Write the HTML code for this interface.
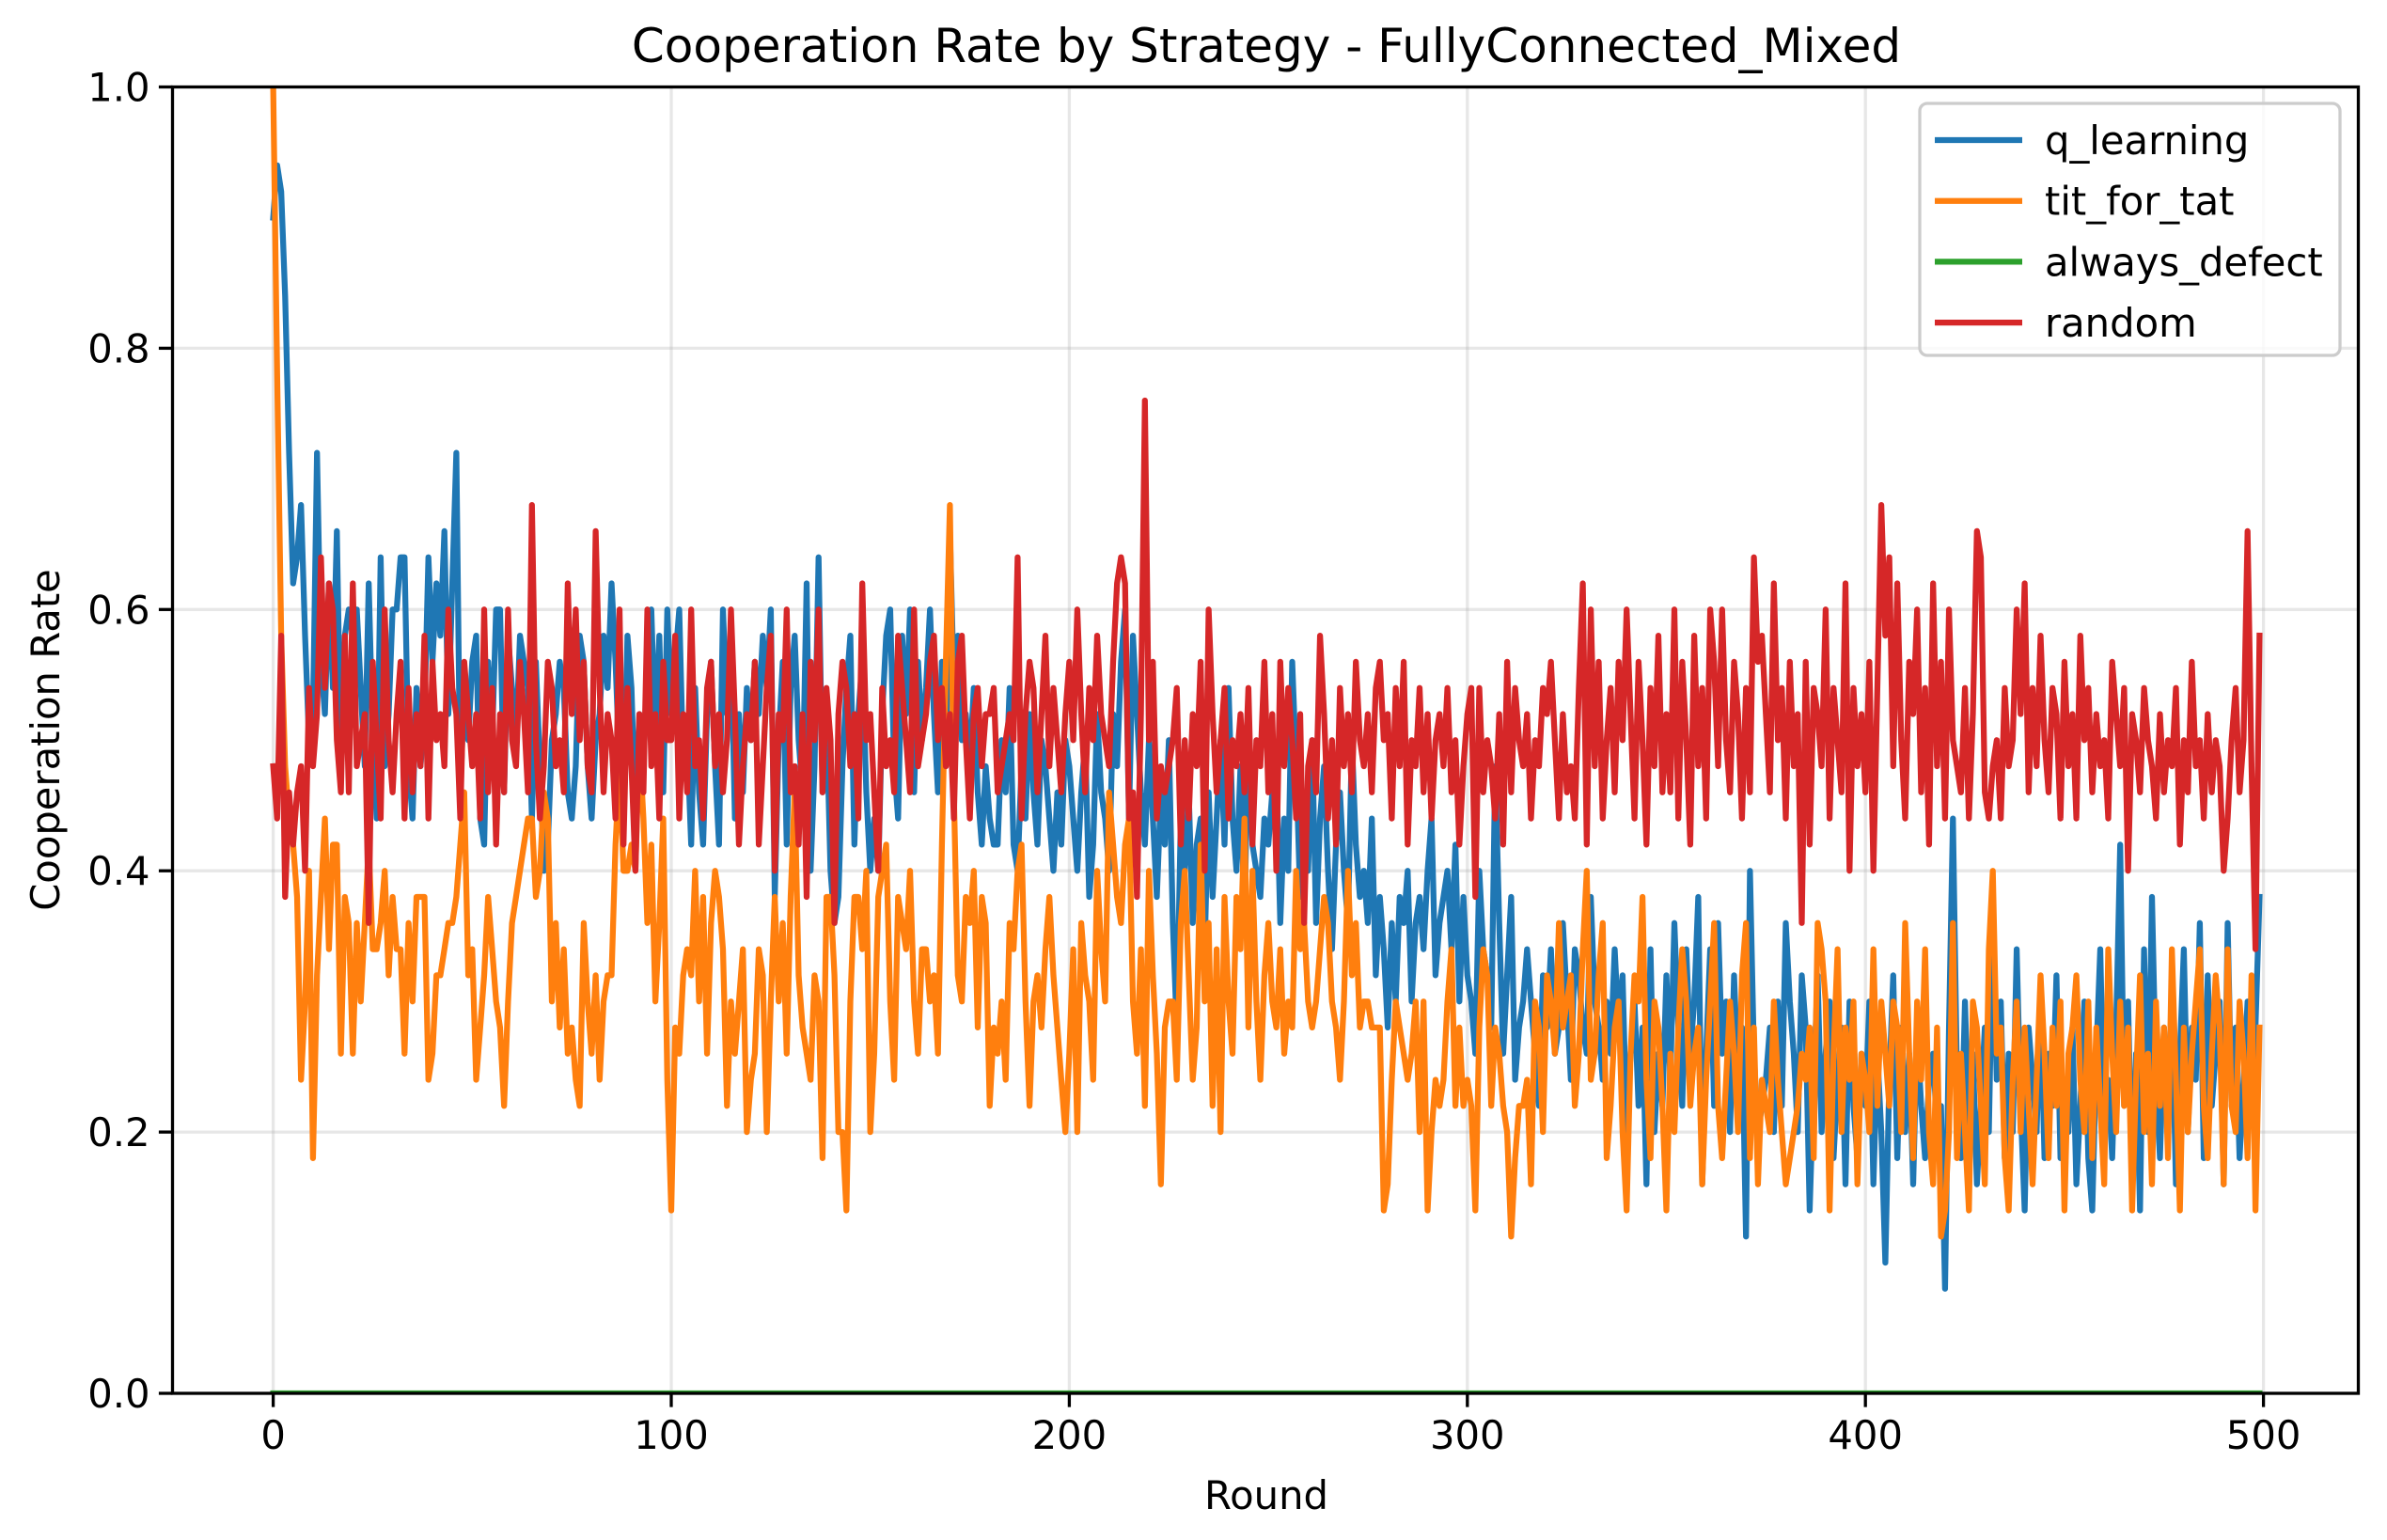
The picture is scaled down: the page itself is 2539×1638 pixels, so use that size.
<!DOCTYPE html>
<html><head><meta charset="utf-8"><style>
html,body{margin:0;padding:0;background:#fff;}
svg{display:block;font-family:"DejaVu Sans","Liberation Sans",sans-serif;}
</style></head><body>
<svg id="chart" width="2539" height="1638" viewBox="0 0 2539 1638" xmlns="http://www.w3.org/2000/svg">
<rect width="2539" height="1638" fill="#fff"/>
<text x="1347" y="66" font-size="50" text-anchor="middle" fill="#000">Cooperation Rate by Strategy - FullyConnected_Mixed</text>
<text x="1347" y="1605" font-size="41.7" text-anchor="middle" fill="#000">Round</text>
<text transform="translate(63,787) rotate(-90)" font-size="41.7" text-anchor="middle" fill="#000">Cooperation Rate</text>
<defs><clipPath id="clip"><rect x="183.5" y="92.5" width="2325" height="1389.5"/></clipPath></defs>
<g id="grid"></g>
<g id="series" clip-path="url(#clip)"></g>
<g id="axes"></g>
<g id="legend"></g>
</svg>
<script>
const categoriesRange = [0, 500];
const yTicks = [0.0, 0.2, 0.4, 0.6, 0.8, 1.0];
const xTicks = [0, 100, 200, 300, 400, 500];
const seriesNames = ["q_learning", "tit_for_tat", "always_defect", "random"];
const seriesColors = ["#1f77b4", "#ff7f0e", "#2ca02c", "#d62728"];

const qLearning = [
.90,.94,.92,.84,.72,.62,.64,.68,.58,.50,.52,.72,.56,.52,.62,.54,.66,.48,.58,.60,.58,.60,.54,.48,.62,.50,.44,.64,.48,.52,.60,.60,.64,.64,.48,.44,.54,.48,.52,.64,.56,.62,.58,.66,.52,.62,.72,.46,.54,.50,
.56,.58,.44,.42,.56,.50,.60,.60,.46,.58,.54,.50,.58,.56,.54,.44,.56,.48,.40,.42,.50,.52,.56,.54,.46,.44,.48,.58,.56,.48,.44,.50,.52,.58,.54,.62,.56,.48,.44,.58,.54,.44,.52,.48,.56,.60,.50,.58,.46,.60,
.52,.56,.60,.48,.50,.42,.54,.46,.42,.52,.56,.48,.42,.60,.52,.58,.44,.52,.46,.54,.50,.56,.52,.58,.54,.60,.38,.50,.56,.42,.54,.58,.50,.46,.62,.40,.48,.64,.46,.52,.40,.36,.38,.48,.54,.58,.42,.52,.56,.46,
.40,.44,.40,.52,.58,.60,.48,.44,.58,.52,.60,.46,.56,.50,.54,.60,.52,.46,.56,.48,.66,.54,.58,.50,.52,.48,.54,.46,.42,.48,.44,.42,.42,.50,.46,.54,.42,.40,.48,.44,.52,.46,.42,.50,.48,.44,.40,.46,.42,.50,
.48,.44,.40,.46,.50,.38,.42,.52,.46,.44,.40,.52,.48,.56,.60,.44,.58,.52,.46,.42,.50,.44,.38,.46,.42,.50,.36,.28,.44,.40,.46,.36,.42,.44,.34,.46,.38,.44,.50,.42,.54,.44,.40,.48,.36,.52,.42,.40,.38,.44,
.42,.46,.48,.36,.44,.40,.56,.48,.38,.44,.40,.50,.36,.44,.48,.40,.34,.42,.46,.40,.36,.50,.42,.38,.40,.36,.44,.32,.38,.34,.28,.36,.30,.38,.36,.40,.30,.36,.38,.34,.40,.44,.32,.36,.38,.40,.34,.42,.30,.38,
.32,.30,.26,.40,.34,.32,.28,.48,.36,.26,.32,.38,.24,.28,.30,.34,.30,.26,.22,.32,.28,.34,.26,.28,.36,.30,.24,.34,.32,.28,.26,.38,.30,.28,.24,.30,.26,.34,.28,.32,.20,.26,.30,.22,.28,.16,.34,.20,.26,.22,
.32,.24,.36,.28,.22,.34,.26,.30,.38,.16,.26,.34,.22,.36,.26,.30,.20,.32,.24,.28,.12,.40,.26,.20,.22,.24,.28,.20,.30,.22,.36,.30,.26,.20,.32,.28,.14,.24,.32,.20,.26,.30,.18,.24,.28,.16,.30,.22,.18,.26,
.22,.30,.16,.26,.20,.10,.24,.32,.18,.28,.20,.26,.16,.28,.22,.18,.24,.26,.20,.22,.08,.28,.44,.24,.18,.30,.20,.26,.16,.22,.28,.20,.36,.24,.30,.18,.26,.20,.34,.22,.14,.28,.24,.20,.30,.18,.26,.22,.32,.18,
.24,.20,.28,.16,.22,.30,.18,.14,.26,.34,.20,.24,.18,.28,.42,.22,.30,.16,.26,.14,.34,.20,.38,.24,.18,.28,.22,.30,.16,.26,.34,.20,.28,.24,.36,.18,.32,.22,.26,.30,.16,.36,.22,.28,.18,.24,.30,.22,.28,.38];

const titForTat = [
1.0,.78,.58,.48,.44,.42,.38,.24,.30,.40,.18,.32,.38,.44,.34,.42,.42,.26,.38,.36,.26,.36,.30,.36,.42,.34,.34,.36,.40,.32,.38,.34,.34,.26,.36,.30,.38,.38,.38,.24,.26,.32,.32,.34,.36,.36,.38,.42,.46,.32,
.34,.24,.28,.32,.38,.34,.30,.28,.22,.30,.36,.38,.40,.42,.44,.44,.38,.40,.46,.44,.30,.36,.28,.34,.26,.28,.24,.22,.36,.30,.26,.32,.24,.30,.32,.32,.42,.48,.40,.40,.42,.40,.50,.44,.36,.42,.30,.36,.44,.24,
.14,.28,.26,.32,.34,.32,.40,.30,.38,.26,.36,.40,.38,.34,.22,.30,.26,.30,.34,.20,.24,.26,.34,.32,.20,.30,.38,.30,.36,.26,.38,.46,.32,.28,.26,.24,.32,.30,.18,.38,.38,.32,.20,.20,.14,.30,.38,.38,.34,.40,
.20,.26,.38,.40,.42,.30,.24,.38,.36,.34,.40,.30,.26,.34,.34,.30,.32,.26,.42,.56,.68,.46,.32,.30,.38,.36,.40,.28,.38,.36,.22,.28,.26,.30,.24,.36,.34,.40,.42,.30,.22,.30,.32,.28,.34,.38,.32,.28,.24,.20,
.26,.34,.20,.36,.32,.30,.24,.40,.34,.30,.46,.42,.38,.36,.42,.44,.30,.26,.34,.22,.40,.32,.26,.16,.28,.30,.30,.24,.36,.40,.32,.24,.28,.42,.30,.36,.22,.34,.20,.38,.30,.26,.38,.34,.44,.28,.40,.30,.24,.32,
.36,.30,.28,.34,.26,.30,.28,.40,.34,.36,.30,.28,.30,.34,.38,.36,.30,.28,.24,.30,.40,.32,.36,.28,.30,.30,.28,.28,.28,.14,.16,.24,.30,.28,.26,.24,.26,.30,.20,.30,.14,.20,.24,.22,.24,.30,.34,.22,.28,.22,
.24,.22,.14,.28,.34,.32,.22,.28,.26,.22,.20,.12,.18,.22,.22,.24,.16,.30,.28,.20,.32,.30,.26,.36,.28,.30,.32,.22,.26,.34,.40,.24,.26,.32,.36,.18,.22,.28,.30,.20,.14,.26,.32,.30,.38,.24,.18,.30,.28,.22,
.14,.26,.20,.28,.34,.30,.22,.26,.28,.16,.24,.30,.36,.22,.18,.24,.30,.26,.20,.32,.36,.18,.28,.16,.24,.22,.20,.30,.24,.20,.16,.18,.20,.22,.26,.24,.28,.18,.36,.34,.30,.14,.26,.34,.20,.28,.24,.30,.16,.26,
.24,.20,.34,.22,.30,.26,.22,.30,.28,.20,.36,.26,.18,.30,.24,.34,.20,.16,.28,.12,.14,.20,.36,.18,.26,.20,.14,.30,.28,.22,.16,.34,.40,.26,.28,.18,.14,.24,.30,.20,.28,.22,.16,.24,.32,.26,.18,.28,.22,.30,
.14,.26,.28,.32,.24,.20,.30,.18,.28,.22,.16,.34,.26,.20,.30,.22,.28,.14,.24,.32,.20,.26,.16,.30,.22,.28,.18,.34,.24,.14,.28,.20,.26,.30,.34,.22,.18,.26,.32,.28,.16,.34,.22,.20,.30,.26,.18,.32,.14,.28];

const alwaysDefect = [
0,0,0,0,0,0,0,0,0,0,0,0,0,0,0,0,0,0,0,0,0,0,0,0,0,0,0,0,0,0,0,0,0,0,0,0,0,0,0,0,0,0,0,0,0,0,0,0,0,0,
0,0,0,0,0,0,0,0,0,0,0,0,0,0,0,0,0,0,0,0,0,0,0,0,0,0,0,0,0,0,0,0,0,0,0,0,0,0,0,0,0,0,0,0,0,0,0,0,0,0,
0,0,0,0,0,0,0,0,0,0,0,0,0,0,0,0,0,0,0,0,0,0,0,0,0,0,0,0,0,0,0,0,0,0,0,0,0,0,0,0,0,0,0,0,0,0,0,0,0,0,
0,0,0,0,0,0,0,0,0,0,0,0,0,0,0,0,0,0,0,0,0,0,0,0,0,0,0,0,0,0,0,0,0,0,0,0,0,0,0,0,0,0,0,0,0,0,0,0,0,0,
0,0,0,0,0,0,0,0,0,0,0,0,0,0,0,0,0,0,0,0,0,0,0,0,0,0,0,0,0,0,0,0,0,0,0,0,0,0,0,0,0,0,0,0,0,0,0,0,0,0,
0,0,0,0,0,0,0,0,0,0,0,0,0,0,0,0,0,0,0,0,0,0,0,0,0,0,0,0,0,0,0,0,0,0,0,0,0,0,0,0,0,0,0,0,0,0,0,0,0,0,
0,0,0,0,0,0,0,0,0,0,0,0,0,0,0,0,0,0,0,0,0,0,0,0,0,0,0,0,0,0,0,0,0,0,0,0,0,0,0,0,0,0,0,0,0,0,0,0,0,0,
0,0,0,0,0,0,0,0,0,0,0,0,0,0,0,0,0,0,0,0,0,0,0,0,0,0,0,0,0,0,0,0,0,0,0,0,0,0,0,0,0,0,0,0,0,0,0,0,0,0,
0,0,0,0,0,0,0,0,0,0,0,0,0,0,0,0,0,0,0,0,0,0,0,0,0,0,0,0,0,0,0,0,0,0,0,0,0,0,0,0,0,0,0,0,0,0,0,0,0,0,
0,0,0,0,0,0,0,0,0,0,0,0,0,0,0,0,0,0,0,0,0,0,0,0,0,0,0,0,0,0,0,0,0,0,0,0,0,0,0,0,0,0,0,0,0,0,0,0,0,0];

const randomStrat = [
.48,.44,.58,.38,.46,.42,.46,.48,.40,.54,.48,.52,.64,.54,.62,.60,.50,.46,.58,.46,.62,.48,.50,.52,.36,.56,.50,.44,.60,.50,.46,.52,.56,.44,.54,.46,.52,.48,.58,.44,.56,.50,.52,.48,.60,.54,.52,.44,.56,.52,
.48,.52,.44,.60,.46,.54,.42,.52,.46,.60,.50,.48,.56,.52,.46,.68,.50,.44,.48,.56,.54,.48,.50,.46,.62,.52,.60,.50,.56,.48,.46,.66,.54,.46,.52,.50,.44,.60,.42,.54,.48,.40,.52,.46,.60,.48,.52,.44,.56,.50,
.50,.58,.44,.52,.46,.60,.48,.50,.44,.54,.56,.48,.52,.46,.50,.60,.52,.42,.48,.52,.50,.56,.42,.48,.54,.58,.40,.52,.50,.60,.46,.48,.42,.52,.38,.56,.50,.60,.46,.54,.50,.36,.52,.56,.54,.48,.52,.44,.62,.50,
.52,.46,.40,.54,.48,.50,.46,.58,.54,.50,.46,.60,.48,.50,.52,.56,.58,.50,.54,.48,.52,.44,.56,.58,.50,.44,.52,.54,.48,.52,.52,.54,.46,.48,.50,.52,.50,.64,.44,.52,.56,.54,.46,.52,.58,.48,.54,.50,.46,.52,
.56,.50,.60,.52,.46,.54,.50,.58,.52,.50,.48,.56,.62,.64,.62,.44,.46,.38,.52,.76,.50,.56,.44,.48,.46,.48,.50,.54,.42,.50,.44,.52,.48,.56,.40,.60,.52,.46,.50,.54,.44,.50,.48,.52,.46,.54,.42,.50,.48,.56,
.46,.52,.40,.56,.48,.54,.50,.44,.52,.36,.48,.50,.46,.58,.52,.44,.50,.42,.54,.48,.52,.46,.56,.50,.48,.52,.46,.54,.56,.50,.52,.44,.54,.48,.56,.42,.50,.48,.54,.46,.52,.44,.50,.52,.48,.54,.46,.50,.42,.48,
.52,.54,.38,.54,.46,.50,.48,.44,.52,.42,.56,.46,.54,.50,.48,.52,.44,.50,.48,.54,.52,.56,.50,.44,.52,.46,.48,.44,.54,.62,.42,.60,.48,.56,.44,.50,.54,.46,.56,.50,.60,.52,.44,.56,.50,.42,.54,.48,.58,.46,
.52,.46,.60,.44,.56,.50,.42,.58,.48,.54,.44,.60,.56,.48,.60,.50,.46,.56,.52,.44,.54,.46,.64,.56,.58,.52,.46,.62,.50,.54,.44,.56,.48,.52,.36,.56,.42,.54,.52,.48,.60,.44,.54,.50,.46,.62,.40,.54,.48,.52,
.46,.56,.40,.54,.68,.58,.64,.48,.62,.50,.44,.56,.52,.60,.46,.54,.42,.62,.48,.56,.44,.60,.50,.48,.46,.54,.44,.52,.66,.64,.46,.44,.48,.50,.44,.54,.48,.50,.60,.52,.62,.46,.54,.48,.58,.50,.46,.54,.52,.44,
.56,.48,.52,.44,.58,.50,.54,.46,.52,.48,.50,.44,.56,.52,.48,.54,.40,.52,.50,.46,.54,.50,.48,.44,.52,.46,.50,.48,.54,.42,.50,.46,.56,.48,.50,.44,.52,.46,.50,.48,.40,.44,.50,.54,.46,.50,.66,.48,.34,.58];

const NS = "http://www.w3.org/2000/svg";
const AX = {left:183.5, right:2508.5, top:92.5, bottom:1482};
const X0 = 290.6, PXR = 4.234;
function xScale(v){ return X0 + v*PXR; }
function yScale(v){ return AX.bottom - v*(AX.bottom-AX.top); }
function mk(tag, attrs, parent){
  const e = document.createElementNS(NS, tag);
  for (const k in attrs) e.setAttribute(k, attrs[k]);
  parent.appendChild(e);
  return e;
}
const grid = document.getElementById('grid');
const axes = document.getElementById('axes');
const seriesG = document.getElementById('series');
const legend = document.getElementById('legend');

xTicks.forEach(t => {
  const x = xScale(t);
  const g = mk('line', {x1:x, x2:x, y1:AX.top, y2:AX.bottom, stroke:'#b0b0b0', 'stroke-opacity':0.3, 'stroke-width':3.3}, grid);
  
  
  const tk = mk('line', {x1:x, x2:x, y1:AX.bottom, y2:AX.bottom+14.6, stroke:'#000', 'stroke-width':3.3}, axes);
  
  
  const lb = mk('text', {x:x, y:AX.bottom+59, 'font-size':41.7, 'text-anchor':'middle', fill:'#000'}, axes);
  lb.textContent = String(t);
  
  
});
yTicks.forEach(t => {
  const y = yScale(t);
  const g = mk('line', {x1:AX.left, x2:AX.right, y1:y, y2:y, stroke:'#b0b0b0', 'stroke-opacity':0.3, 'stroke-width':3.3}, grid);
  
  
  const tk = mk('line', {x1:AX.left-14.6, x2:AX.left, y1:y, y2:y, stroke:'#000', 'stroke-width':3.3}, axes);
  
  
  const lb = mk('text', {x:AX.left-24, y:y+15, 'font-size':41.7, 'text-anchor':'end', fill:'#000'}, axes);
  lb.textContent = t.toFixed(1);
  
  
});

const allSeries = [qLearning, titForTat, alwaysDefect, randomStrat];
allSeries.forEach((arr, si) => {
  const pts = arr.map((v,i) => xScale(i).toFixed(1)+','+yScale(v).toFixed(1)).join(' ');
  const pl = mk('polyline', {points:pts, fill:'none', stroke:seriesColors[si], 'stroke-width':6.25, 'stroke-linejoin':'round', 'stroke-linecap':'square'}, seriesG);
  
  
});

const frame = mk('rect', {x:AX.left, y:AX.top, width:AX.right-AX.left, height:AX.bottom-AX.top, fill:'none', stroke:'#000', 'stroke-width':3.3}, axes);



const box = mk('rect', {x:2042, y:110, width:447, height:268, rx:8, fill:'#fff', 'fill-opacity':0.8, stroke:'#cccccc', 'stroke-width':3.3}, legend);


seriesNames.forEach((n, i) => {
  const y = 149 + i*64.7;
  const ln = mk('line', {x1:2058, x2:2151, y1:y, y2:y, stroke:seriesColors[i], 'stroke-width':6.25}, legend);
  
  
  const tx = mk('text', {x:2175, y:y+15, 'font-size':41.7, fill:'#000'}, legend);
  tx.textContent = n;
  
  
});
</script>
</body></html>
